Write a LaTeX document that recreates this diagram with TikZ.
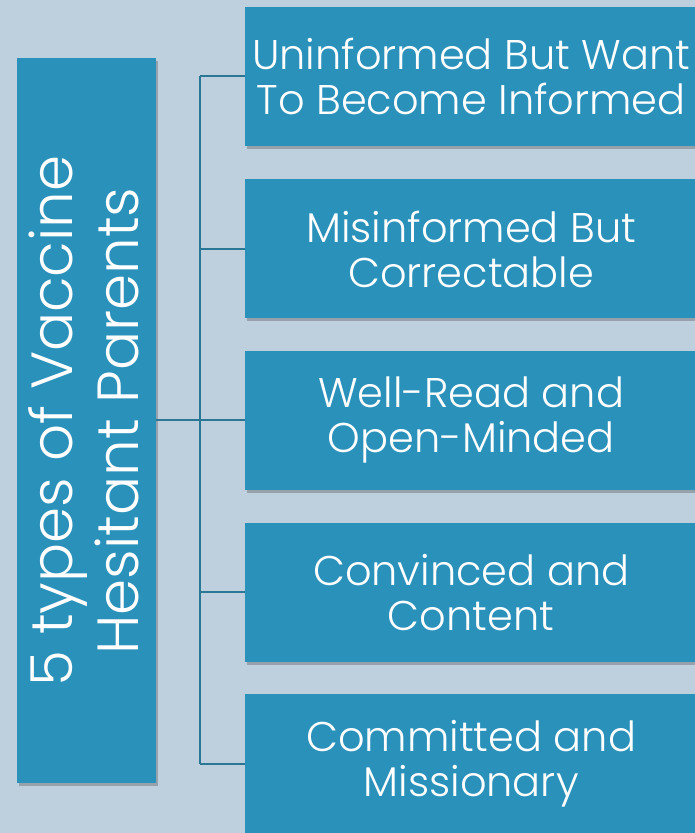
\documentclass[tikz,border=0pt]{standalone}
\usepackage{fontspec}
\setmainfont{Poppins}[UprightFont=* Light]
\usetikzlibrary{shadows}
\definecolor{bgc}{RGB}{190,207,222}
\definecolor{boxc}{RGB}{42,145,187}
\definecolor{linec}{RGB}{42,119,150}
\tikzset{
  shad/.style={drop shadow={shadow xshift=2pt,shadow yshift=-3pt,opacity=0.35,fill=black!70}},
  rbox/.style={fill=boxc,shad,minimum width=452pt,minimum height=139pt,inner sep=0pt,
    text=white,align=center,font=\fontsize{41.5}{45}\selectfont},
  lbox/.style={fill=boxc,shad,minimum width=139pt,minimum height=725pt,inner sep=0pt},
  conn/.style={draw=linec,line width=2pt}
}
\begin{document}
\begin{tikzpicture}[x=1pt,y=1pt]
\fill[bgc] (0,0) rectangle (695,833);
\useasboundingbox (0,0) rectangle (695,833);
\node[lbox] (L) at (86.5,412.5) {};
\node[rotate=90,text=white,align=center,font=\fontsize{58}{66}\selectfont] (Lt) at (84,412) {5 types of Vaccine\\Hesitant Parents};
\node[rbox,anchor=west] (b1) at (245,756.5) {Uninformed But Want\\To Become Informed};
\node[rbox,anchor=west] (b2) at (245,584) {Misinformed But\\Correctable};
\node[rbox,anchor=west] (b3) at (245,412.5) {Well-Read and\\Open-Minded};
\node[rbox,anchor=west] (b4) at (245,240.5) {Convinced and\\Content};
\node[rbox,anchor=west] (b5) at (245,69) {Committed and\\Missionary};
\coordinate (j1) at (200,756.5);
\coordinate (j5) at (200,69);
\draw[conn] (j1) -- (j5);
\draw[conn] (L.east) -- (b3.west);
\draw[conn] (j1) -- (b1.west);
\draw[conn] (200,584) -- (b2.west);
\draw[conn] (200,240.5) -- (b4.west);
\draw[conn] (j5) -- (b5.west);
\end{tikzpicture}
\end{document}
